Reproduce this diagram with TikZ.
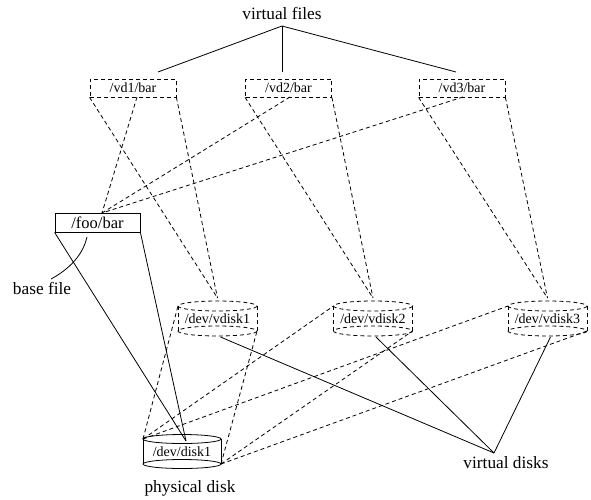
\documentclass[tikz,border=0pt]{standalone}
\usepackage{fontspec}
\setmainfont{Liberation Serif}
\begin{document}
\begin{tikzpicture}[x=1pt,y=-1pt,
  line width=0.8pt,
  dsh/.style={dash pattern=on 4pt off 3pt},
  lbl/.style={font=\fontsize{17.3}{19}\selectfont, inner sep=0pt},
  txt/.style={font=\fontsize{14}{16}\selectfont, inner sep=0pt},
  vbox/.style={draw, dsh, minimum width=86pt, minimum height=18pt, inner sep=0pt, font=\fontsize{14}{16}\selectfont},
  fbox/.style={draw, minimum width=85pt, minimum height=19pt, inner sep=0pt, font=\fontsize{16.5}{18}\selectfont}]
\useasboundingbox (0,0) rectangle (591,499);

% labels
\node[lbl, anchor=base] (vfiles) at (282,19.5) {virtual files};
\coordinate (vfapex) at (282,26);
\node[lbl] (basefile) at (42,288) {base file};
\node[lbl] (physdisk) at (190,488) {physical disk};
\node[lbl] (vdisks) at (506,463) {virtual disks};
\coordinate (vdapex) at (494,453);

% virtual files
\node[vbox] (vd1) at (133,88) {/vd1/bar};
\node[vbox] (vd2) at (288.5,88) {/vd2/bar};
\node[vbox] (vd3) at (462,88) {/vd3/bar};
\coordinate (vd1mid) at (137,97);
\coordinate (vd2mid) at (290,97);
\coordinate (vd3mid) at (463,97);
\coordinate (vf1end) at (158,72);
\coordinate (vf2end) at (282,72);
\coordinate (vf3end) at (456,72);

% base file
\node[fbox] (foobar) at (97.5,222.5) {/foo/bar};
\coordinate (foobartop) at (102,213);

% virtual disk cylinders (dashed)
\foreach \n/\cx in {vdisk1/217.5, vdisk2/373, vdisk3/547.5}{
  \draw[dsh] (\cx,306) ellipse [x radius=39.5, y radius=5];
  \draw[dsh] (\cx,331) ellipse [x radius=39.5, y radius=5];
  \draw[dsh] (\cx-39.5,306) -- (\cx-39.5,331);
  \draw[dsh] (\cx+39.5,306) -- (\cx+39.5,331);
  \node[txt] (\n) at (\cx,319) {/dev/\n};
  \coordinate (\n-tl) at (\cx-39.5,306);
  \coordinate (\n-br) at (\cx+39.5,331);
  \coordinate (\n-top) at (\cx,298);
  \coordinate (\n-bot) at (\cx+3,337);
}

% physical disk cylinder
\draw (182,439) ellipse [x radius=39, y radius=4.5];
\draw (182,464) ellipse [x radius=39, y radius=4.5];
\draw (143,439) -- (143,464);
\draw (221,439) -- (221,464);
\node[txt] (disk1) at (182,452) {/dev/disk1};
\coordinate (disk1-tl) at (143,439);
\coordinate (disk1-br) at (221,464);
\coordinate (disk1-in) at (186,441);

% virtual files fan
\draw (vfapex) -- (vf1end);
\draw (vfapex) -- (vf2end);
\draw (vfapex) -- (vf3end);

% virtual file -> virtual disk and base file
\draw[dsh] (vd1.south west) -- (vdisk1-top);
\draw[dsh] (vd1.south east) -- (vdisk1-top);
\draw[dsh] (vd1mid) -- (foobartop);
\draw[dsh] (vd2.south west) -- (vdisk2-top);
\draw[dsh] (vd2.south east) -- (vdisk2-top);
\draw[dsh] (vd2mid) -- (foobartop);
\draw[dsh] (vd3.south west) -- (vdisk3-top);
\draw[dsh] (vd3.south east) -- (vdisk3-top);
\draw[dsh] (vd3mid) -- (foobartop);

% base file -> physical disk
\draw (foobar.south west) -- (disk1-in);
\draw (foobar.south east) -- (disk1-in);
\draw (51,279) .. controls (75,266) and (84,250) .. (87,237);

% physical disk -> virtual disks
\foreach \n in {vdisk1, vdisk2, vdisk3}{
  \draw[dsh] (disk1-tl) -- (\n-tl);
  \draw[dsh] (disk1-br) -- (\n-br);
  \draw (\n-bot) -- (vdapex);
}
\end{tikzpicture}
\end{document}
